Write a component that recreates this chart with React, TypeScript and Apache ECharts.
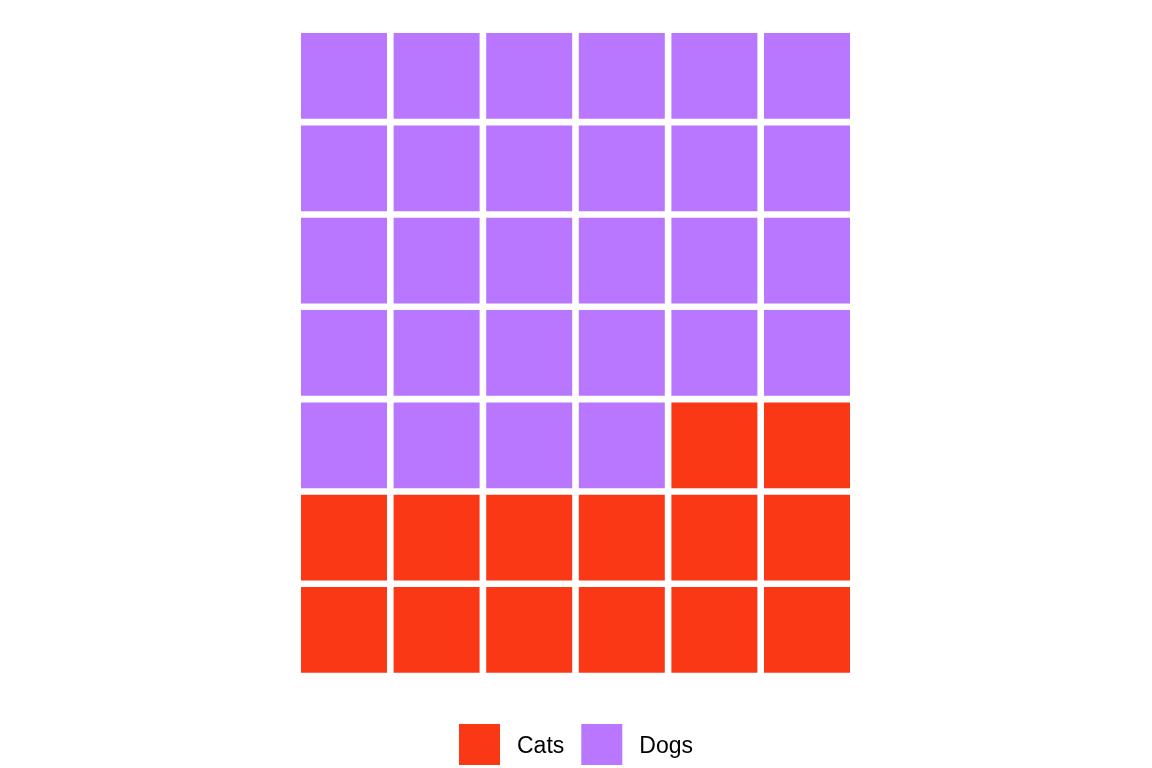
import React, { useEffect, useRef } from "react";
import * as echarts from "echarts";

const categories = ["Cats", "Dogs"];
const counts = [14, 28];
const colors = ["#FA3816", "#B976FE"];
const nCols = 6;
const nRows = 7;
const colLabels = ["1", "2", "3", "4", "5", "6"];
const rowLabels = ["1", "2", "3", "4", "5", "6", "7"];

export default function App() {
  const ref = useRef<HTMLDivElement>(null);
  useEffect(() => {
    if (!ref.current) return;
    const chart = echarts.init(ref.current, undefined, { renderer: "svg" });
    // Dogs fill from top-left row-wise; Cats take the remaining cells (bottom).
    const dogCells: number[][] = [];
    const catCells: number[][] = [];
    let k = 0;
    for (let r = nRows - 1; r >= 0; r--) {
      for (let c = 0; c < nCols; c++) {
        if (k < counts[1]) dogCells.push([c, r]);
        else catCells.push([c, r]);
        k++;
      }
    }
    const cellData = [catCells, dogCells];
    const gap = 6.6;
    chart.setOption({
      animation: false,
      grid: { left: 297.7, top: 29.8, width: 555.6, height: 646.3 },
      xAxis: { type: "category", data: colLabels, show: false },
      yAxis: { type: "category", data: rowLabels, show: false },
      legend: {
        data: categories,
        top: 719,
        left: "center",
        icon: "rect",
        itemWidth: 41,
        itemHeight: 41,
        itemGap: 17,
        textStyle: {
          fontFamily: "Liberation Sans, Arial, sans-serif",
          fontSize: 23,
          color: "#000",
          padding: [0, 0, 0, 12],
        },
      },
      series: categories.map((name, i) => ({
        name,
        type: "custom",
        data: cellData[i],
        itemStyle: { color: colors[i] },
        encode: { x: 0, y: 1 },
        renderItem: (params: any, api: any) => {
          const center = api.coord([api.value(0), api.value(1)]);
          const size = api.size([1, 1]);
          const w = size[0] - gap;
          const h = size[1] - gap;
          return {
            type: "rect",
            shape: { x: center[0] - w / 2, y: center[1] - h / 2, width: w, height: h },
            style: { fill: colors[i] },
          };
        },
        emphasis: { disabled: true },
      })),
    });
    return () => chart.dispose();
  }, []);
  return (
    <div
      ref={ref}
      style={{ position: "fixed", left: 0, top: 0, width: 1152, height: 768 }}
    />
  );
}
